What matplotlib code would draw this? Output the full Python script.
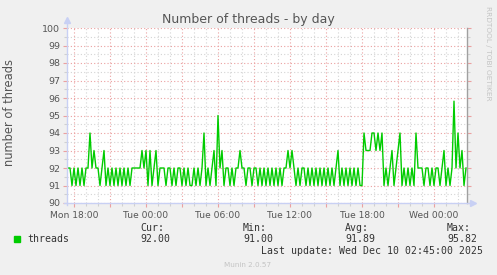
import matplotlib
matplotlib.use("Agg")
import matplotlib.pyplot as plt
import matplotlib.ticker as ticker
import numpy as np

# threads, one sample every 10 minutes (Mon 17:30 -> Wed 02:40)
threads = [
    92, 92, 91, 92, 91, 92, 91, 92, 91, 92,
    92, 94, 92, 93, 92, 92, 91, 92, 93, 91,
    92, 91, 92, 91, 92, 91, 92, 91, 92, 91,
    92, 91, 92, 92, 92, 92, 92, 93, 92, 93,
    91, 93, 91, 92, 93, 91, 92, 92, 92, 91,
    92, 92, 91, 92, 91, 92, 92, 91, 92, 91,
    92, 91, 91, 92, 91, 92, 91, 92, 94, 91,
    92, 91, 92, 93, 91, 95, 92, 93, 91, 92,
    92, 91, 92, 91, 92, 92, 93, 92, 92, 91,
    92, 92, 91, 92, 92, 91, 92, 91, 92, 91,
    92, 91, 92, 91, 92, 91, 92, 91, 92, 92,
    93, 92, 93, 92, 91, 92, 91, 92, 92, 91,
    92, 91, 92, 91, 92, 91, 92, 91, 92, 91,
    92, 91, 92, 91, 92, 93, 91, 92, 91, 92,
    91, 92, 91, 92, 91, 92, 91, 91, 94, 93,
    93, 93, 94, 94, 93, 94, 93, 94, 91, 92,
    91, 92, 93, 91, 92, 93, 94, 91, 92, 91,
    92, 91, 92, 91, 94, 92, 92, 92, 91, 92,
    92, 91, 92, 91, 92, 92, 91, 92, 93, 91,
    92, 91, 92, 95.82, 92, 94, 92, 93, 91, 92,
]
start_hour = 17.5          # hours since Mon 00:00
step_hour = 1 / 6
view = (17.4167, 50.75)    # Mon 17:25 .. Wed 02:45
days = ["Mon", "Tue", "Wed"]

stats_names = ["Cur:", "Min:", "Avg:", "Max:"]
stats_values = ["92.00", "91.00", "91.89", "95.82"]

W, H = 497, 275
times = start_hour + np.arange(len(threads)) * step_hour

fig = plt.figure(figsize=(W / 100, H / 100), dpi=100, facecolor="#F0F0F0")
ax = fig.add_axes([67 / W, 1 - 203 / H, 400 / W, 175 / H])
ax.set_facecolor("white")

ax.plot(times, threads, color="#00CC00", lw=1.0, zorder=3)

ax.set_xlim(*view)
ax.set_ylim(90, 100)

ax.xaxis.set_major_locator(ticker.MultipleLocator(3))
ax.xaxis.set_minor_locator(ticker.MultipleLocator(1))
ax.yaxis.set_major_locator(ticker.MultipleLocator(1))
ax.yaxis.set_minor_locator(ticker.MultipleLocator(0.5))


def fmt_time(h, pos):
    h = int(round(h))
    if h % 6:
        return ""
    return f"{days[h // 24]} {h % 24:02d}:00"


ax.xaxis.set_major_formatter(ticker.FuncFormatter(fmt_time))
ax.yaxis.set_major_formatter(ticker.FuncFormatter(lambda v, p: f"{v:.0f}"))

ax.grid(which="minor", color="#D4D4D4", linestyle=(0, (1, 2)), lw=0.8)
ax.grid(which="major", color="#EBA0A0", linestyle=(0, (1, 2)), lw=0.8)
ax.set_axisbelow(True)

ax.tick_params(which="major", length=3, width=0.8, color="#EBA0A0",
               labelcolor="#555555", pad=2)
ax.tick_params(which="minor", length=2, width=0.8, color="#D0D0D0")
ax.tick_params(axis="x", labelsize=6.6, pad=3)
ax.tick_params(axis="y", labelsize=6.8)
ax.tick_params(axis="y", which="both", right=True)

for s in ["top", "left", "bottom"]:
    ax.spines[s].set_visible(False)
ax.spines["right"].set_color("#A0A0A0")
ax.spines["right"].set_linewidth(1)

# rrdtool style axes with arrows
axis_col = "#C8D0F4"
ax.plot([0, 0], [-0.01, 1.03], transform=ax.transAxes, color=axis_col,
        lw=1, clip_on=False, zorder=4)
ax.plot([-0.008, 1.01], [0, 0], transform=ax.transAxes, color=axis_col,
        lw=1, clip_on=False, zorder=4)
ax.plot([0], [1.045], marker="^", ms=4.5, color=axis_col,
        transform=ax.transAxes, clip_on=False)
ax.plot([1.014], [0], marker=">", ms=4.5, color=axis_col,
        transform=ax.transAxes, clip_on=False)

ax.set_ylabel("number of threads", fontsize=8.3, color="#555555")
ax.yaxis.set_label_coords(-51 / 400, 0.52)

fig.text(248 / W, 1 - 19 / H, "Number of threads - by day", ha="center",
         va="center", fontsize=9, color="#555555")
fig.text(488 / W, 1 - 53 / H, "RRDTOOL / TOBI OETIKER", rotation=-90,
         ha="center", va="center", fontsize=5.3, color="#C4C4C4")

mono = dict(family="DejaVu Sans Mono", fontsize=7.1, color="#333333",
            va="center")
fig.patches.append(plt.Rectangle((14 / W, 1 - 242 / H), 6 / W, 6 / H,
                                 transform=fig.transFigure,
                                 color="#00CC00"))
fig.text(27 / W, 1 - 239.5 / H, "threads", **mono)
for x, name, val in zip([140, 243, 345, 447], stats_names, stats_values):
    fig.text(x / W, 1 - 228 / H, name, **mono)
    fig.text(x / W, 1 - 239.5 / H, val, **mono)
fig.text(483 / W, 1 - 251.5 / H, "Last update: Wed Dec 10 02:45:00 2025",
         ha="right", **mono)
fig.text(248 / W, 1 - 265 / H, "Munin 2.0.57", ha="center", va="center",
         fontsize=5.2, color="#C4C4C4")

fig.savefig("out.png", dpi=100, facecolor=fig.get_facecolor())
